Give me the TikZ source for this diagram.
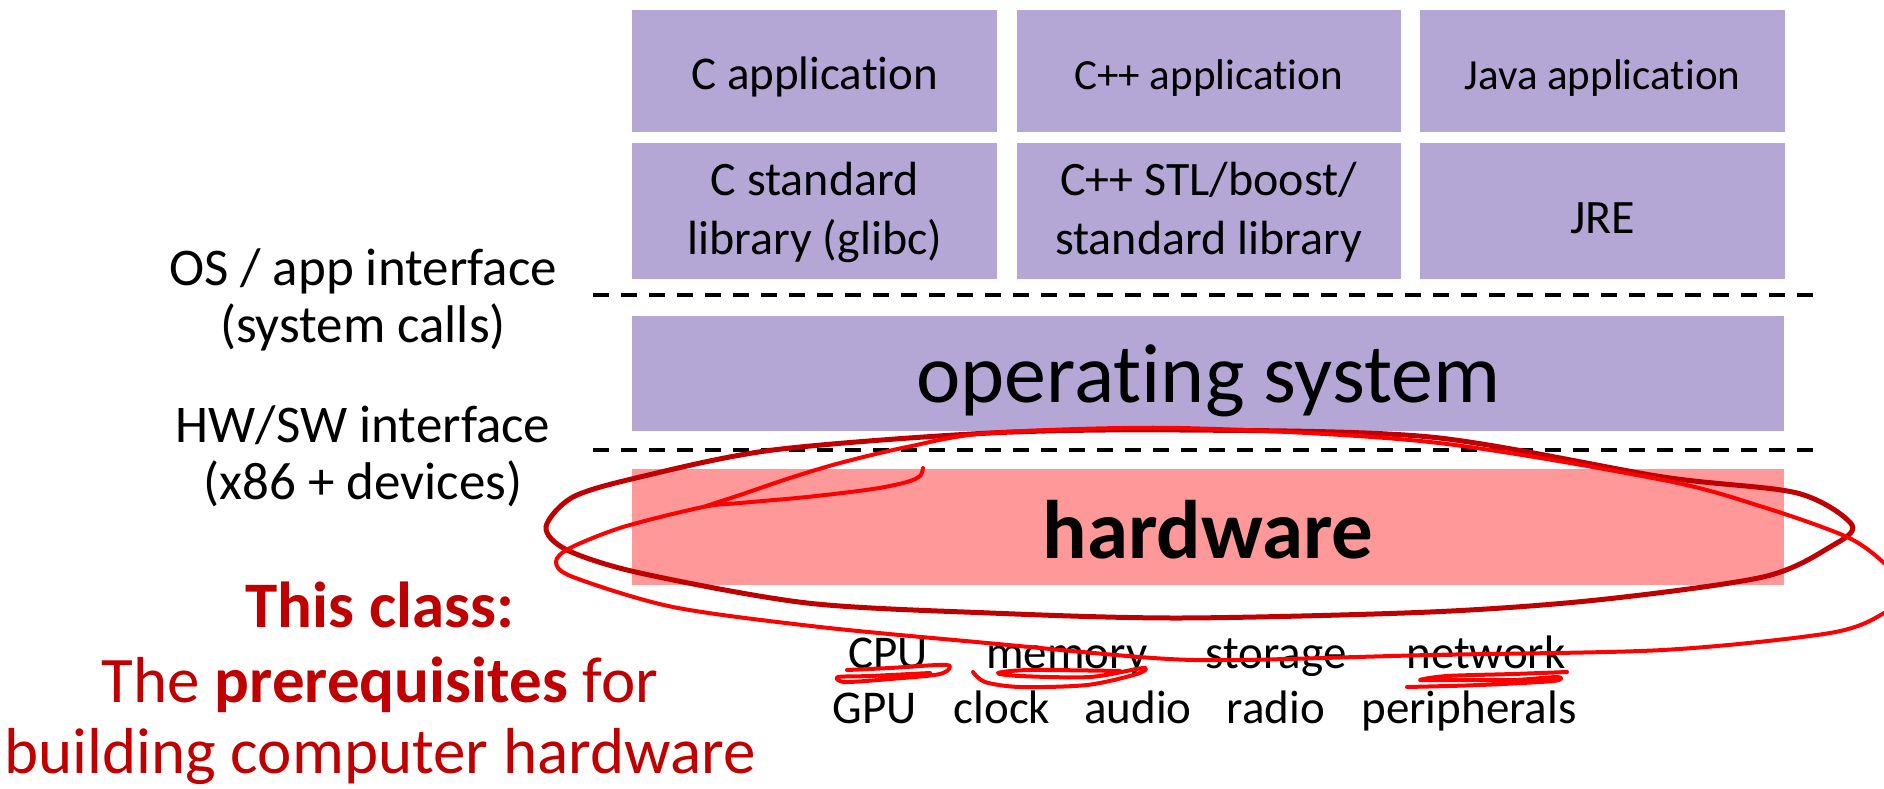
\documentclass[tikz,border=0pt]{standalone}
\usepackage{fontspec}
\setmainfont{Carlito}[Ligatures=CommonOff]
\usetikzlibrary{positioning}

\definecolor{layer}{HTML}{B4A7D6}
\definecolor{hwpink}{HTML}{FF9999}
\definecolor{darkred}{HTML}{C00000}
\definecolor{penred}{HTML}{FF0000}

\tikzstyle{appbox}=[
	fill=layer,
	inner sep=0pt,
	anchor=north west,
	minimum height=122pt,
	text height=36pt,
	text depth=0pt,
	font=\fontsize{43}{50}\selectfont
]
\tikzstyle{libbox}=[
	appbox,
	minimum height=136pt,
	align=center,
	text height=98pt,
	text depth=10pt,
	font=\fontsize{48}{59}\selectfont
]
\tikzstyle{iface}=[
	align=center,
	inner sep=0pt,
	font=\fontsize{53}{57}\selectfont
]
\tikzstyle{note}=[
	inner sep=0pt,
	text=darkred,
	font=\fontsize{65}{72}\selectfont
]
\tikzstyle{part}=[
	inner sep=0pt,
	anchor=base,
	font=\fontsize{47}{50}\selectfont
]
\tikzstyle{cut}=[
	line width=4pt,
	dash pattern=on 16pt off 12pt
]
\tikzstyle{circled}=[
	draw=darkred,
	line width=5pt
]
\tikzstyle{scribble}=[
	draw=penred,
	line width=4pt,
	line cap=round,
	line join=round
]

\begin{document}
\begin{tikzpicture}[x=1pt,y=-1pt]
\useasboundingbox (0,0) rectangle (1884,789);

% applications
\node[appbox, minimum width=365pt, font=\fontsize{47}{50}\selectfont] (capp) at (632,10) {C application};
\node[appbox, minimum width=384pt, right=19pt of capp] (cppapp) {C++ application};
\node[appbox, minimum width=365pt, right=19pt of cppapp] (javaapp) {Java application};

% libraries
\node[libbox, minimum width=365pt, below=10pt of capp] (clib) {C standard\\library (glibc)};
\node[libbox, minimum width=384pt, below=10pt of cppapp] (cpplib) {C++ STL/boost/\\standard library};
\node[libbox, minimum width=365pt, text height=46pt, text depth=0pt, below=10pt of javaapp] (jre) {JRE};

% os + hardware
\node[appbox, minimum width=1152pt, minimum height=115pt, text height=58pt, font=\fontsize{84}{90}\selectfont] (os) at (632,316) {operating system};
\node[appbox, fill=hwpink, minimum width=1152pt, minimum height=116pt, text height=63pt, font=\fontsize{83}{90}\selectfont\bfseries] (hw) at (632,469) {hardware};

\coordinate (appL) at (593,295);
\coordinate (appR) at (1813,295);
\coordinate (hwL) at (593,450);
\coordinate (hwR) at (1813,450);
\draw[cut] (appL) -- (appR);
\draw[cut] (hwL) -- (hwR);

\node[iface] (appif) at (363,300) {OS / app interface\\(system calls)};
\node[iface] (hwif) at (363,456) {HW/SW interface\\(x86 + devices)};

% this class
\node[note] (noteA) at (380,605) {\bfseries This class:};
\node[note] (noteB) at (380,685) {The \textbf{prerequisites} for};
\node[note] (noteC) at (380,757) {building computer hardware};

% parts
\node[part] (cpu) at (888,668) {CPU};
\node[part] (mem) at (1067,668) {memory};
\node[part] (sto) at (1276,668) {storage};
\node[part] (net) at (1486,668) {network};
\node[part] (gpu) at (875,723) {GPU};
\node[part] (clk) at (1002,723) {clock};
\node[part] (aud) at (1138,723) {audio};
\node[part] (rad) at (1276,723) {radio};
\node[part] (per) at (1469,723) {peripherals};

% pen marks
\begin{scope}
\clip (0,0) rectangle (1884,789);
\draw[circled] plot[smooth cycle] coordinates {(546,527) (573,497) (640,477) (773,450) (990,433) (1180,430) (1430,437) (1663,477) (1797,493) (1852,525) (1830,547) (1763,577) (1597,600) (1430,612) (1180,618) (990,613) (807,603) (640,573) (567,550)};
\draw[scribble] plot[smooth] coordinates {(703,507) (740,495) (790,478) (840,463) (907,447) (990,433) (1180,428) (1430,442) (1663,480) (1763,507) (1847,537) (1884,563) (1905,590) (1884,613) (1830,633) (1663,650) (1430,655) (1240,660) (1153,658) (987,643) (820,627) (673,607) (573,577) (556,562) (570,548) (623,527) (703,507) (740,503) (807,497) (873,489) (907,482) (920,476) (923,468)};
\draw[scribble] plot[smooth] coordinates {(847,670) (890,668) (947,665) (940,674) (890,679) (845,682) (838,677) (870,676) (930,673)};
\draw[scribble] plot[smooth] coordinates {(973,672) (985,682) (1020,687) (1087,685) (1137,674) (1143,668) (1090,677) (1020,676) (998,673) (1030,670) (1120,671)};
\draw[scribble] plot[smooth] coordinates {(1407,687) (1480,685) (1553,681) (1557,677) (1513,680) (1447,680) (1420,680) (1447,676) (1513,674) (1567,672)};
\end{scope}
\end{tikzpicture}
\end{document}
